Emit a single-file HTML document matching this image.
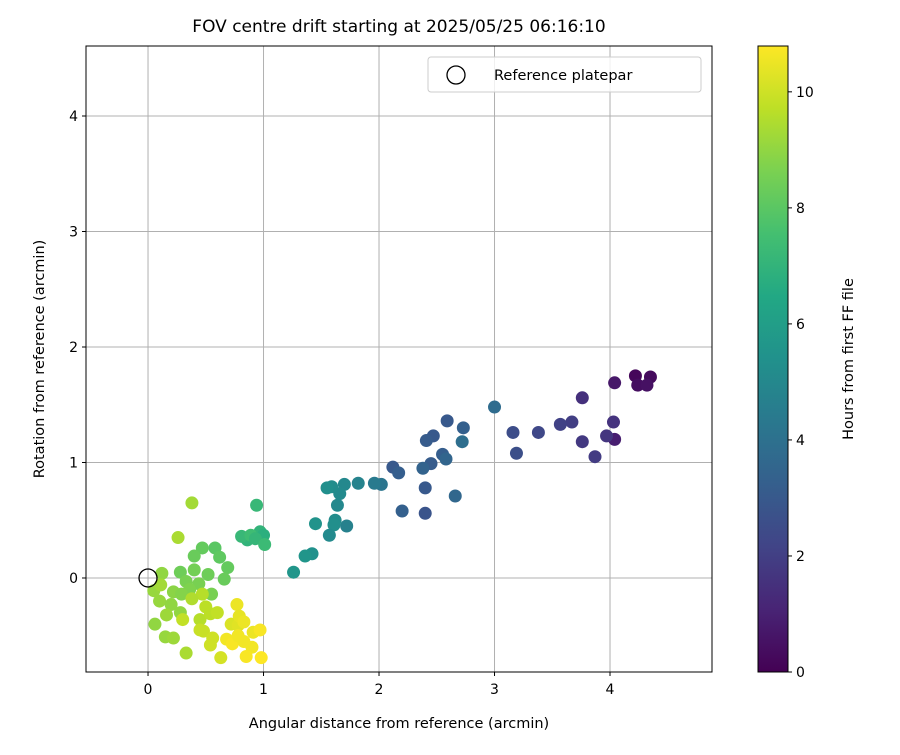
<!DOCTYPE html>
<html><head><meta charset="utf-8"><style>
body{margin:0;background:#fff;font-family:"Liberation Sans","DejaVu Sans",sans-serif;}
svg text{font-family:"DejaVu Sans","Liberation Sans",sans-serif;fill:#000}
</style></head><body>
<svg id="chart" width="900" height="750" xmlns="http://www.w3.org/2000/svg">
<defs><linearGradient id="vir" x1="0" y1="1" x2="0" y2="0">
<stop offset="0" stop-color="#440154"/><stop offset="0.1" stop-color="#482475"/><stop offset="0.2" stop-color="#414487"/><stop offset="0.3" stop-color="#355f8d"/><stop offset="0.4" stop-color="#2a788e"/><stop offset="0.5" stop-color="#21918c"/><stop offset="0.6" stop-color="#22a884"/><stop offset="0.7" stop-color="#44bf70"/><stop offset="0.8" stop-color="#7ad151"/><stop offset="0.9" stop-color="#bddf26"/><stop offset="1" stop-color="#fde725"/></linearGradient></defs>
<text x="399" y="32" font-size="17" text-anchor="middle">FOV centre drift starting at 2025/05/25 06:16:10</text>
<g id="grid"></g>
<g id="pts"></g>
<rect x="86" y="46" width="626" height="626" fill="none" stroke="#000" stroke-width="1"/>
<g id="ticks"></g>
<text x="399" y="728" font-size="14.5" text-anchor="middle">Angular distance from reference (arcmin)</text>
<text transform="translate(44,359) rotate(-90)" font-size="14.5" text-anchor="middle">Rotation from reference (arcmin)</text>
<g>
<rect x="428" y="57" width="273" height="35" rx="3" fill="#fff" fill-opacity="0.8" stroke="#ccc"/>
<circle cx="456" cy="75" r="9" fill="none" stroke="#000" stroke-width="1.3"/>
<text x="494" y="80" font-size="14.5">Reference platepar</text>
</g>
<rect x="758" y="46" width="30" height="626" fill="url(#vir)" stroke="#000" stroke-width="1"/>
<g id="cbticks"></g>
<text transform="translate(853,359) rotate(-90)" font-size="14.5" text-anchor="middle">Hours from first FF file</text>
</svg>
<script>
const xs=[4.22,4.35,4.24,4.32,4.04,4.04,3.76,4.03,3.97,3.76,3.87,3.67,3.57,3.38,3.16,3.19,3.00,2.59,2.73,2.47,2.41,2.55,2.58,2.72,2.45,2.38,2.12,2.17,2.40,2.66,2.40,2.20,2.02,1.96,1.82,1.70,1.66,1.59,1.55,1.64,1.62,1.61,1.57,1.72,1.45,1.42,1.36,1.26,0.94,0.97,1.00,0.86,0.81,0.89,0.93,1.01,0.38,0.58,0.47,0.40,0.62,0.26,0.40,0.28,0.69,0.66,0.52,0.44,0.33,0.36,0.22,0.12,0.05,0.10,0.20,0.28,0.16,0.06,0.15,0.22,0.33,0.55,0.29,0.11,0.47,0.50,0.38,0.45,0.30,0.54,0.60,0.48,0.45,0.56,0.54,0.63,0.72,0.78,0.77,0.79,0.83,0.68,0.73,0.83,0.91,0.97,0.90,0.98,0.85,0.78];
const ys=[1.75,1.74,1.67,1.67,1.69,1.20,1.56,1.35,1.23,1.18,1.05,1.35,1.33,1.26,1.26,1.08,1.48,1.36,1.30,1.23,1.19,1.07,1.03,1.18,0.99,0.95,0.96,0.91,0.78,0.71,0.56,0.58,0.81,0.82,0.82,0.81,0.73,0.79,0.78,0.63,0.50,0.46,0.37,0.45,0.47,0.21,0.19,0.05,0.63,0.40,0.37,0.33,0.36,0.37,0.34,0.29,0.65,0.26,0.26,0.19,0.18,0.35,0.07,0.05,0.09,-0.01,0.03,-0.05,-0.03,-0.10,-0.12,0.04,-0.11,-0.20,-0.23,-0.30,-0.32,-0.40,-0.51,-0.52,-0.65,-0.14,-0.14,-0.06,-0.14,-0.25,-0.18,-0.36,-0.36,-0.31,-0.30,-0.46,-0.45,-0.52,-0.58,-0.69,-0.40,-0.41,-0.23,-0.33,-0.38,-0.53,-0.57,-0.55,-0.47,-0.45,-0.60,-0.69,-0.68,-0.50];
const hours=[0.2,0.3,0.4,0.5,0.7,0.9,1.5,1.6,1.7,1.8,1.9,2.0,2.1,2.3,2.5,2.6,3.8,3.0,3.3,3.0,3.1,3.2,3.5,3.9,3.1,3.4,3.0,3.2,3.0,3.6,2.8,3.3,4.2,4.4,4.8,5.0,5.1,5.2,5.3,5.0,5.2,5.3,5.1,4.7,5.5,5.4,5.6,5.6,7.2,7.0,6.8,7.0,7.2,7.4,7.1,7.3,9.3,8.0,8.2,8.3,8.1,9.4,8.5,8.4,8.2,8.3,8.4,8.6,8.6,8.7,8.9,9.0,9.1,9.1,9.0,9.0,9.2,9.0,9.1,9.2,9.4,8.6,8.8,9.3,9.6,9.7,9.5,9.6,9.8,9.7,9.8,9.9,9.9,10.0,10.0,10.1,10.2,10.3,10.5,10.4,10.5,10.6,10.7,10.6,10.5,10.7,10.6,10.8,10.7,10.6];
const xTicks=[0,1,2,3,4], yTicks=[0,1,2,3,4], cTicks=[0,2,4,6,8,10];
const NS="http://www.w3.org/2000/svg";
const X0=-0.537,X1=4.883,Y0=-0.814,Y1=4.606,CMAX=10.79;
const sx=v=>86+(v-X0)/(X1-X0)*626, sy=v=>672-(v-Y0)/(Y1-Y0)*626, sc=v=>672-v/CMAX*626;
const vir=[[68,1,84],[72,36,117],[65,68,135],[53,95,141],[42,120,142],[33,145,140],[34,168,132],[68,191,112],[122,209,81],[189,223,38],[253,231,37]];
function col(h){let t=Math.max(0,Math.min(1,h/CMAX))*10,i=Math.min(9,Math.floor(t)),f=t-i;const a=vir[i],b=vir[i+1];return `rgb(${a.map((c,k)=>Math.round(c+(b[k]-c)*f)).join(',')})`;}
function mk(tag,at,parent){const e=document.createElementNS(NS,tag);for(const k in at)e.setAttribute(k,at[k]);parent.appendChild(e);return e;}
const grid=document.getElementById('grid'),tk=document.getElementById('ticks'),pts=document.getElementById('pts'),cb=document.getElementById('cbticks');
xTicks.forEach(v=>{const x=sx(v);
 const g=mk('line',{x1:x,x2:x,y1:46,y2:672,stroke:'#b0b0b0','stroke-width':1},grid);
 
 
 mk('line',{x1:x,x2:x,y1:672,y2:676,stroke:'#000'},tk);
 const t=mk('text',{x:x,y:694,'font-size':14,'text-anchor':'middle'},tk);t.textContent=v;
 
 });
yTicks.forEach(v=>{const y=sy(v);
 const g=mk('line',{x1:86,x2:712,y1:y,y2:y,stroke:'#b0b0b0','stroke-width':1},grid);
 
 
 mk('line',{x1:82,x2:86,y1:y,y2:y,stroke:'#000'},tk);
 const t=mk('text',{x:78,y:y+5,'font-size':14,'text-anchor':'end'},tk);t.textContent=v;
 
 });
cTicks.forEach(v=>{const y=sc(v);
 mk('line',{x1:788,x2:792,y1:y,y2:y,stroke:'#000'},cb);
 const t=mk('text',{x:796,y:y+5,'font-size':14},cb);t.textContent=v;
 
 });
xs.forEach((v,i)=>{const c=mk('circle',{cx:sx(v),cy:sy(ys[i]),r:6.5,fill:col(hours[i])},pts);
 
 });
const ref=mk('circle',{cx:sx(0),cy:sy(0),r:9,fill:'none',stroke:'#000','stroke-width':1.3},pts);


</script>
</body></html>
